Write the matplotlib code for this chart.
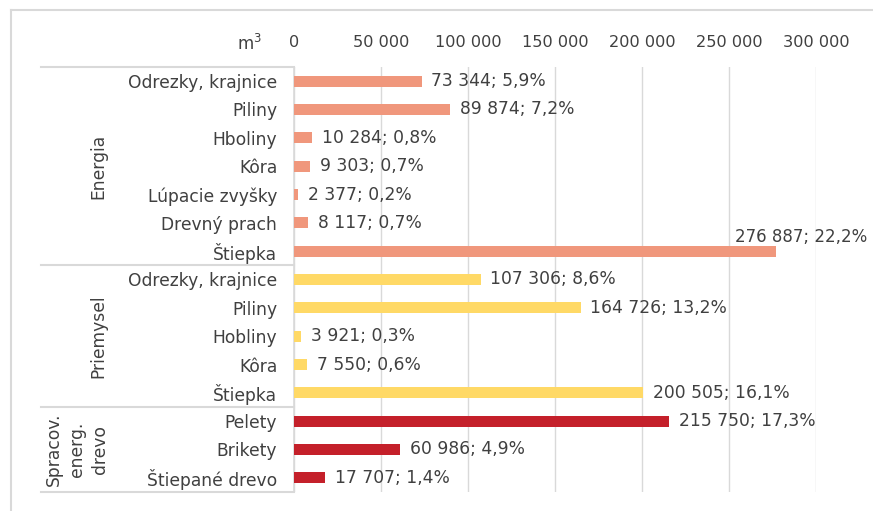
import matplotlib
matplotlib.use("Agg")
import matplotlib.pyplot as plt
from matplotlib.lines import Line2D
import matplotlib.transforms as mtransforms

plt.rcParams['font.family'] = ['DejaVu Sans']

# Data
categories = [
    "Odrezky, krajnice", "Piliny", "Hboliny", "Kôra", "Lúpacie zvyšky",
    "Drevný prach", "Štiepka",
    "Odrezky, krajnice", "Piliny", "Hobliny", "Kôra", "Štiepka",
    "Pelety", "Brikety", "Štiepané drevo",
]
values = [73344, 89874, 10284, 9303, 2377, 8117, 276887,
          107306, 164726, 3921, 7550, 200505,
          215750, 60986, 17707]
percents = [5.9, 7.2, 0.8, 0.7, 0.2, 0.7, 22.2,
            8.6, 13.2, 0.3, 0.6, 16.1,
            17.3, 4.9, 1.4]
groups = ["Energia", "Priemysel", "Spracov.\nenerg.\ndrevo"]
group_sizes = [7, 5, 3]
group_colors = ["#F0977C", "#FFD966", "#C4202A"]
x_ticks = [0, 50000, 100000, 150000, 200000, 250000, 300000]
unit_label = "m$^3$"

TEXT = "#404040"
GRID = "#D9D9D9"
W, H = 873, 511

fig = plt.figure(figsize=(W / 100, H / 100), dpi=100)

# Plot area in pixel coordinates
left_px, right_px, top_px, bottom_px = 294, 816, 67, 492
ax = fig.add_axes([left_px / W, 1 - bottom_px / H,
                   (right_px - left_px) / W, (bottom_px - top_px) / H])

colors = []
for size, c in zip(group_sizes, group_colors):
    colors += [c] * size

n = len(categories)
ypos = list(range(n))
ax.barh(ypos, values, height=0.38, color=colors, zorder=3)


def fmt(v, p):
    return f"{v:,}".replace(",", " ") + "; " + f"{p:.1f}".replace(".", ",") + "%"


for i, (v, p) in enumerate(zip(values, percents)):
    if v == max(values):
        # largest bar: label sits above the bar end, kept inside the figure
        ax.annotate(fmt(v, p), xy=(v, i), xytext=(66, 10.5),
                    textcoords="offset points", ha="right", va="center",
                    fontsize=12, color=TEXT, annotation_clip=False, zorder=4)
    else:
        ax.annotate(fmt(v, p), xy=(v, i), xytext=(7, 0),
                    textcoords="offset points", ha="left", va="center",
                    fontsize=12.3, color=TEXT, zorder=4)

ax.set_ylim(n - 0.5, -0.5)
ax.set_xlim(0, 300000)
ax.set_yticks(ypos)
ax.set_yticklabels(categories, fontsize=12.3, color=TEXT)
ax.tick_params(axis="y", length=0, pad=12)

ax.xaxis.tick_top()
ax.set_xticks(x_ticks)
ax.set_xticklabels([f"{t:,}".replace(",", " ") for t in x_ticks],
                   fontsize=11.6, color=TEXT)
ax.tick_params(axis="x", length=0, pad=12)

ax.grid(axis="x", color=GRID, linewidth=1, zorder=0)
ax.grid(axis="y", visible=False)
for s in ["top", "right", "bottom"]:
    ax.spines[s].set_visible(False)
ax.spines["left"].set_color(GRID)
ax.spines["left"].set_linewidth(1.2)

# Group separator lines across the label column
trans = mtransforms.blended_transform_factory(ax.transAxes, ax.transData)
x0 = (41 - left_px) / (right_px - left_px)
bounds = [-0.5]
acc = -0.5
for size in group_sizes:
    acc += size
    bounds.append(acc)
for b in bounds:
    ax.add_line(Line2D([x0, 0], [b, b], transform=trans, color=GRID,
                       linewidth=1.5, clip_on=False))

# Group labels (x in pixels, y in data rows)
label_trans = mtransforms.blended_transform_factory(
    mtransforms.IdentityTransform(), ax.transData)
start = 0
group_x = [98, 98, 77]
for g, size, gx in zip(groups, group_sizes, group_x):
    center = start + (size - 1) / 2
    ax.text(gx, center, g, transform=label_trans,
            rotation=90, ha="center", va="center", fontsize=12.3, color=TEXT,
            multialignment="center", linespacing=1.35)
    start += size

# Unit label
fig.text(262 / W, 1 - 44 / H, unit_label, ha="right", va="center",
         fontsize=12, color=TEXT)

# Outer frame (left and top edges)
fig.add_artist(Line2D([11 / W, 11 / W], [0, 1 - 10 / H],
                      transform=fig.transFigure, color=GRID, linewidth=1.5))
fig.add_artist(Line2D([11 / W, 1], [1 - 10 / H, 1 - 10 / H],
                      transform=fig.transFigure, color=GRID, linewidth=1.5))

fig.savefig("out.png", dpi=100)
